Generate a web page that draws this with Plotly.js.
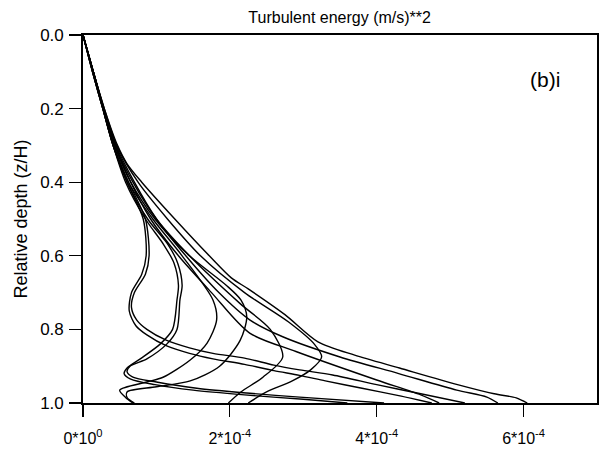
<!DOCTYPE html>
<html>
<head>
<meta charset="utf-8">
<script src="https://cdn.plot.ly/plotly-3.0.1.min.js"></script>
<style>html,body{margin:0;padding:0;background:#fff;}#chart{width:599px;height:449px;}</style>
</head>
<body>
<div id="chart"></div>
<script>
// Turbulent energy profiles, values in units of 1e-4 (m/s)^2, depth z/H
const depthA = [0,0.1,0.2,0.3,0.35,0.4,0.5,0.6,0.66,0.69,0.76,0.834,0.87,0.905,0.95,0.975,0.986,1.0];
const energyA = [0,0.14,0.29,0.47,0.6,0.8,1.25,1.72,2.02,2.25,2.75,3.2,3.7,4.31,5.1,5.6,5.9,6.05];

const depthB = [0,0.1,0.2,0.3,0.4,0.5,0.6,0.7,0.774,0.82,0.875,0.92,0.965,0.984,1.0];
const energyB = [0,0.14,0.28,0.45,0.7,1.0,1.4,1.85,2.27,2.72,3.5,4.3,5.09,5.5,5.65];

const depthC = [0,0.1,0.2,0.3,0.4,0.5,0.6,0.7,0.81,0.86,0.9375,0.978,1.0];
const energyC = [0,0.14,0.28,0.44,0.65,0.92,1.3,1.75,2.27,2.9,4.0,4.6,4.85];

const depthD1 = [0,0.1,0.2,0.3,0.4,0.5,0.6,0.7,0.78,0.84,0.875,0.91,0.94,0.97,1.0];
const energyD1 = [0,0.14,0.29,0.46,0.75,1.15,1.6,2.2,2.8,3.15,3.25,3.1,2.85,2.5,2.25];

const depthD2 = [0,0.1,0.2,0.3,0.4,0.5,0.6,0.73,0.8,0.875,0.93,0.97,1.0];
const energyD2 = [0,0.14,0.28,0.44,0.68,1.0,1.45,2.14,2.55,2.72,2.45,2.15,1.98];

const depthD3 = [0,0.1,0.2,0.3,0.4,0.5,0.6,0.68,0.72,0.766,0.83,0.9,0.94,0.956,0.97,0.985,1.0];
const energyD3 = [0,0.14,0.28,0.43,0.65,0.98,1.45,1.95,2.15,2.23,2.14,1.86,1.46,1.0,0.6,0.6,0.7];

const depthD4 = [0,0.1,0.2,0.3,0.4,0.5,0.6,0.72,0.774,0.837,0.883,0.93,0.943,0.965,0.985,1.0];
const energyD4 = [0,0.14,0.28,0.42,0.62,0.95,1.35,1.77,1.82,1.69,1.46,1.09,0.87,0.5,0.58,0.68];

const depthS1 = [0,0.1,0.2,0.3,0.4,0.5,0.57,0.62,0.68,0.72,0.8,0.84,0.88,0.9,0.915,0.93,0.943,0.96,0.973,0.984,1.0];
const energyS1 = [0,0.13,0.27,0.41,0.6,0.88,1.16,1.29,1.35,1.32,1.28,1.14,0.87,0.64,0.6,0.68,1.0,1.55,2.23,2.95,4.1];

const depthS2 = [0,0.1,0.2,0.3,0.4,0.5,0.57,0.62,0.68,0.72,0.8,0.84,0.88,0.905,0.92,0.935,0.95,0.965,0.978,0.99,1.0];
const energyS2 = [0,0.13,0.27,0.41,0.58,0.85,1.1,1.24,1.3,1.28,1.22,1.05,0.78,0.6,0.56,0.65,0.98,1.5,2.2,3.0,3.6];

const depthE1 = [0,0.1,0.2,0.3,0.4,0.5,0.6,0.65,0.7,0.74,0.774,0.8,0.83,0.85,0.865,0.878,0.897,0.91,0.924,0.95,0.975,1.0];
const energyE1 = [0,0.13,0.27,0.41,0.62,0.85,0.9,0.85,0.7,0.66,0.73,0.87,1.14,1.45,1.77,2.2,2.6,2.95,3.4,4.0,4.6,5.2];

const depthE2 = [0,0.1,0.2,0.3,0.4,0.5,0.6,0.65,0.7,0.75,0.79,0.815,0.845,0.865,0.88,0.895,0.912,0.925,0.94,0.96,0.98,1.0];
const energyE2 = [0,0.13,0.27,0.41,0.6,0.82,0.86,0.8,0.66,0.63,0.72,0.87,1.14,1.45,1.77,2.2,2.6,2.95,3.3,3.8,4.3,4.75];

const xTickVals = [0, 2e-4, 4e-4, 6e-4];
const xTickText = ['0*10<sup>0</sup>', '2*10<sup>-4</sup>', '4*10<sup>-4</sup>', '6*10<sup>-4</sup>'];
const yTickVals = [0, 0.2, 0.4, 0.6, 0.8, 1.0];
const yTickText = ['0.0', '0.2', '0.4', '0.6', '0.8', '1.0'];

const profiles = [
  [depthA, energyA], [depthB, energyB], [depthC, energyC],
  [depthD1, energyD1], [depthD2, energyD2], [depthD3, energyD3], [depthD4, energyD4],
  [depthS1, energyS1], [depthS2, energyS2], [depthE1, energyE1], [depthE2, energyE2]
];

const traces = profiles.map(function (p) {
  return {
    x: p[1].map(function (v) { return v * 1e-4; }),
    y: p[0],
    type: 'scatter',
    mode: 'lines',
    line: { color: '#000', width: 1.4, shape: 'spline', smoothing: 0.8 },
    hoverinfo: 'skip',
    showlegend: false
  };
});

const font = 'Liberation Sans, Arial, Helvetica, sans-serif';

const layout = {
  width: 599,
  height: 449,
  margin: { l: 83, r: 2, t: 35, b: 46 },
  paper_bgcolor: '#fff',
  plot_bgcolor: '#fff',
  font: { family: font, color: '#000', size: 16 },
  title: {
    text: 'Turbulent energy (m/s)**2',
    font: { family: font, size: 16, color: '#000' },
    x: 0.567, xanchor: 'center', y: 0.962, yanchor: 'middle'
  },
  xaxis: {
    range: [0, 7e-4],
    tickvals: xTickVals,
    ticktext: xTickText,
    ticks: 'outside', ticklen: 12, tickwidth: 1.2, tickcolor: '#000',
    ticklabelstandoff: 8,
    showline: true, linecolor: '#000', linewidth: 1.8, mirror: true,
    showgrid: false, zeroline: false,
    tickfont: { family: font, size: 16, color: '#000' }
  },
  yaxis: {
    range: [1.0, 0],
    tickvals: yTickVals,
    ticktext: yTickText,
    ticks: 'outside', ticklen: 12, tickwidth: 1.2, tickcolor: '#000',
    ticklabelstandoff: 2,
    showline: true, linecolor: '#000', linewidth: 1.8, mirror: true,
    showgrid: false, zeroline: false,
    tickfont: { family: font, size: 17, color: '#000' },
    title: { text: 'Relative depth (z/H)', font: { family: font, size: 18, color: '#000' }, standoff: 8 }
  },
  annotations: [{
    text: '(b)i', xref: 'paper', yref: 'paper', x: 0.899, y: 0.878,
    xanchor: 'center', yanchor: 'middle',
    showarrow: false, font: { family: font, size: 21, color: '#000' }
  }]
};

Plotly.newPlot('chart', traces, layout, { displayModeBar: false, staticPlot: true });
</script>
</body>
</html>
